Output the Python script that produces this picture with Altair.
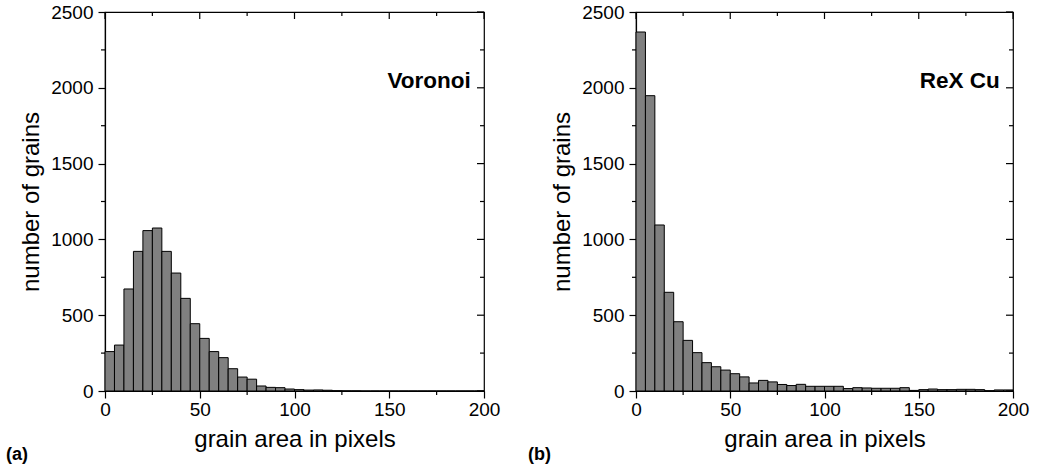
import altair as alt
import pandas as pd

# ---- data -------------------------------------------------------------
bin_starts = [i * 5 for i in range(40)]
bin_ends = [s + 5 for s in bin_starts]

voronoi_counts = [260, 303, 673, 921, 1058, 1075, 921, 778, 611, 444,
                  347, 260, 220, 147, 92, 78, 33, 24, 22, 13,
                  9, 6, 7, 5, 2, 1, 1, 0, 0, 0,
                  0, 0, 0, 0, 0, 0, 0, 0, 0, 0]

rexcu_counts = [2368, 1948, 1095, 651, 457, 334, 253, 187, 160, 138,
                114, 93, 53, 70, 60, 43, 36, 44, 31, 31,
                31, 31, 16, 22, 20, 18, 18, 18, 22, 4,
                9, 13, 9, 9, 11, 11, 9, 2, 7, 7]

x_major = [0, 50, 100, 150, 200]
x_minor = [25, 75, 125, 175]
y_major = [0, 500, 1000, 1500, 2000, 2500]
y_minor = [250, 750, 1250, 1750, 2250]

panel_labels = ["Voronoi", "ReX Cu"]
panel_letters = ["(a)", "(b)"]
label_x = [193, 193]
label_y = [2045, 2045]

FONT = "Liberation Sans"
H = 379
MAJ = 7
MIN = 4


def panel(counts, label, lx, ly, letter, width, letter_x):
    df = pd.DataFrame({"start": bin_starts, "end": bin_ends, "count": counts})
    xs = alt.Scale(domain=[0, 200], nice=False, zero=False)
    ys = alt.Scale(domain=[0, 2500], nice=False)

    x_axis = alt.Axis(values=x_major, tickSize=MAJ, labelPadding=2, titlePadding=8,
                      title="grain area in pixels", labelFlush=False, grid=False,
                      domainColor="black", tickColor="black", labelColor="black", format="d")
    y_axis = alt.Axis(values=y_major, tickSize=MAJ, labelPadding=5, titlePadding=7,
                      title="number of grains", labelFlush=False, grid=False,
                      domainColor="black", tickColor="black", labelColor="black", format="d")

    bars = alt.Chart(df).mark_bar(fill="#808080", stroke="black", strokeWidth=1,
                                  fillOpacity=1).encode(
        x=alt.X("start:Q", scale=xs, axis=x_axis),
        x2="end:Q",
        y=alt.Y("count:Q", scale=ys, axis=y_axis),
        y2=alt.datum(0),
    )

    xmaj = pd.DataFrame({"v": x_major})
    xmin = pd.DataFrame({"v": x_minor})
    ymaj = pd.DataFrame({"v": y_major})
    ymin = pd.DataFrame({"v": y_minor})

    def xrule(d, y0, y1):
        return alt.Chart(d).mark_rule(color="black", strokeWidth=1.2).encode(
            x=alt.X("v:Q", scale=xs, axis=x_axis), y=alt.value(y0), y2=alt.value(y1))

    def yrule(d, x0, x1):
        return alt.Chart(d).mark_rule(color="black", strokeWidth=1.2).encode(
            y=alt.Y("v:Q", scale=ys, axis=y_axis), x=alt.value(x0), x2=alt.value(x1))

    ticks = [
        xrule(xmaj, 0, MAJ), xrule(xmin, 0, MIN),            # top, inward
        xrule(xmin, H, H + MIN),                              # bottom minor, outward
        yrule(ymaj, width, width - MAJ), yrule(ymin, width, width - MIN),  # right, inward
        yrule(ymin, 0, -MIN),                                 # left minor, outward
    ]

    lab_df = pd.DataFrame({"x": [lx], "y": [ly], "t": [label]})
    lab = alt.Chart(lab_df).mark_text(align="right", baseline="middle", font=FONT,
                                      fontSize=22.5, fontWeight="bold", color="black").encode(
        x=alt.X("x:Q", scale=xs, axis=x_axis), y=alt.Y("y:Q", scale=ys, axis=y_axis), text="t:N")

    let_df = pd.DataFrame({"t": [letter]})
    let = alt.Chart(let_df).mark_text(align="left", baseline="middle", font=FONT,
                                      fontSize=18, fontWeight="bold", color="black").encode(
        x=alt.value(letter_x), y=alt.value(443), text="t:N")

    return alt.layer(bars, *ticks, lab, let).properties(width=width, height=H)


left = panel(voronoi_counts, panel_labels[0], label_x[0], label_y[0], panel_letters[0], 379, -99)
right = panel(rexcu_counts, panel_labels[1], label_x[1], label_y[1], panel_letters[1], 377, -108)

chart = alt.hconcat(left, right, spacing=152, bounds="flush").properties(
    padding={"left": 5, "top": 2, "right": 5, "bottom": 5},
    background="white",
).configure_view(
    stroke="black", strokeWidth=1.2
).configure_axis(
    domainWidth=1.2, tickWidth=1.2,
    labelFont=FONT, labelFontSize=19,
    titleFont=FONT, titleFontSize=24, titleFontWeight="normal", titleColor="black",
)

chart.save("out.html", embed_options={"renderer": "svg", "actions": False})
